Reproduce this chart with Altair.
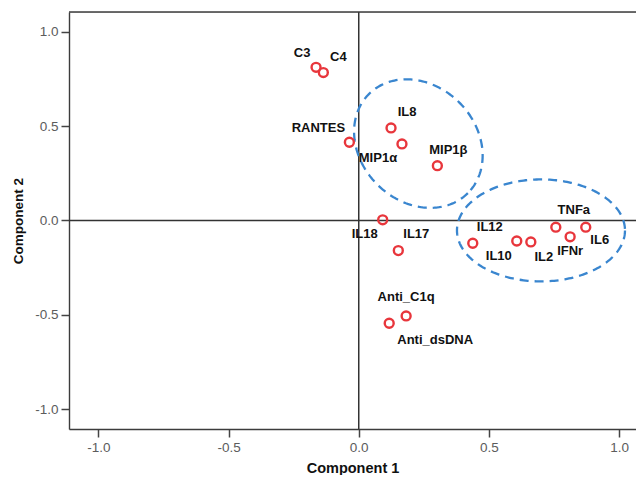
import numpy as np
import pandas as pd
import altair as alt

# ---- data ----
names = ["C3", "C4", "RANTES", "IL8", "MIP1α", "MIP1β", "IL18", "IL17",
         "IL12", "IL10", "IL2", "TNFa", "IFNr", "IL6", "Anti_C1q", "Anti_dsDNA"]
comp1 = [-0.164, -0.136, -0.036, 0.124, 0.166, 0.302, 0.092, 0.152,
         0.438, 0.607, 0.661, 0.757, 0.812, 0.872, 0.182, 0.117]
comp2 = [0.811, 0.783, 0.414, 0.490, 0.405, 0.290, 0.003, -0.160,
         -0.121, -0.109, -0.114, -0.036, -0.087, -0.036, -0.506, -0.545]
x_ticks = [-1.0, -0.5, 0.0, 0.5, 1.0]
y_ticks = [-1.0, -0.5, 0.0, 0.5, 1.0]

# label offsets from point (pixels, style only)
label_dx = [-14, 15, -31, 16, -24, 11, -18, 18, 17, -18, 13, 18, 0, 14, 0, 46]
label_dy = [-14, -16, -14, -16, 14, -16, 14, -17, -16, 15, 15, -17, 14, 13, -19, 17]

# ---- layout ----
X_DOM = [-1.113, 1.065]
Y_DOM = [-1.105, 1.104]
W, H = 567, 417
PX_X = W / (X_DOM[1] - X_DOM[0])
PX_Y = H / (Y_DOM[1] - Y_DOM[0])

df = pd.DataFrame({"name": names, "c1": comp1, "c2": comp2})
df["lx"] = df["c1"] + np.array(label_dx) / PX_X
df["ly"] = df["c2"] - np.array(label_dy) / PX_Y

# ---- dashed ellipse annotations (center in data units, semi-axes in px) ----
ellipses = [
    dict(cx=0.229, cy=0.407, a=70, b=58, rot=45),
    dict(cx=0.700, cy=-0.053, a=84, b=51, rot=0),
]
rows = []
t = np.linspace(0, 2 * np.pi, 241)
for k, e in enumerate(ellipses):
    th = np.deg2rad(e["rot"])
    px = e["a"] * np.cos(t) * np.cos(th) - e["b"] * np.sin(t) * np.sin(th)
    py = e["a"] * np.cos(t) * np.sin(th) + e["b"] * np.sin(t) * np.cos(th)  # screen y down
    for i in range(len(t)):
        rows.append({"g": k, "o": i, "ex": e["cx"] + px[i] / PX_X,
                     "ey": e["cy"] - py[i] / PX_Y})
ell = pd.DataFrame(rows)

FONT = "Liberation Sans"
FRAME = "#3c3c3c"
lab_expr = "(datum.value < 0 ? '-' : '') + format(abs(datum.value), '.1f')"

xscale = alt.Scale(domain=X_DOM, nice=False, zero=False)
yscale = alt.Scale(domain=Y_DOM, nice=False, zero=False)

xaxis = alt.Axis(values=x_ticks, labelExpr=lab_expr, title="Component 1",
                 grid=False, domain=True, domainColor=FRAME, domainWidth=1.4,
                 tickSize=8, tickWidth=1.5, tickColor="#444444",
                 labelFont=FONT, labelFontSize=13.5, labelColor="#5c5c5c", labelPadding=3,
                 titleFont=FONT, titleFontSize=14.5, titleFontWeight="bold", titleColor="#111111",
                 titleY=39, titleBaseline="middle")
yaxis = alt.Axis(values=y_ticks, labelExpr=lab_expr, title="Component 2",
                 grid=False, domain=True, domainColor=FRAME, domainWidth=1.4,
                 tickSize=8, tickWidth=1.5, tickColor="#444444",
                 labelFont=FONT, labelFontSize=13.5, labelColor="#5c5c5c", labelPadding=3,
                 titleFont=FONT, titleFontSize=13.5, titleFontWeight="bold", titleColor="#111111",
                 titleX=-51, titleY=H / 2, titleAngle=-90, titleAlign="center",
                 titleBaseline="middle")

base = alt.Chart(df)

vline = alt.Chart(pd.DataFrame({"v": [0.0]})).mark_rule(color="#333333", strokeWidth=1.5).encode(
    x=alt.X("v:Q", scale=xscale, axis=xaxis))
hline = alt.Chart(pd.DataFrame({"v": [0.0]})).mark_rule(color="#333333", strokeWidth=1.5).encode(
    y=alt.Y("v:Q", scale=yscale, axis=yaxis))
top_frame = alt.Chart(pd.DataFrame({"v": [0.0]})).mark_rule(color=FRAME, strokeWidth=1.4).encode(
    y=alt.value(0))

ell_layer = alt.Chart(ell).mark_line(color="#3a86cf", strokeWidth=2.3, strokeDash=[9, 6]).encode(
    x=alt.X("ex:Q", scale=xscale),
    y=alt.Y("ey:Q", scale=yscale),
    detail="g:N",
    order="o:Q",
)

pts = base.mark_point(shape="circle", filled=False, color="#e8363c", strokeWidth=2.4,
                      size=80, opacity=1).encode(
    x=alt.X("c1:Q", scale=xscale),
    y=alt.Y("c2:Q", scale=yscale),
)

labels = base.mark_text(font=FONT, fontSize=13, fontWeight="bold", color="#111111",
                        align="center", baseline="middle").encode(
    x=alt.X("lx:Q", scale=xscale),
    y=alt.Y("ly:Q", scale=yscale),
    text="name:N",
)

chart = alt.layer(vline, hline, top_frame, ell_layer, pts, labels).properties(
    width=W, height=H,
    autosize=alt.AutoSizeParams(type="none"),
    padding={"left": 61, "top": 4, "right": 0, "bottom": 46},
).configure_view(
    fill="#ececec", strokeWidth=0
).configure(background="white")

chart.save("out.html", embed_options={"renderer": "svg", "actions": False})
